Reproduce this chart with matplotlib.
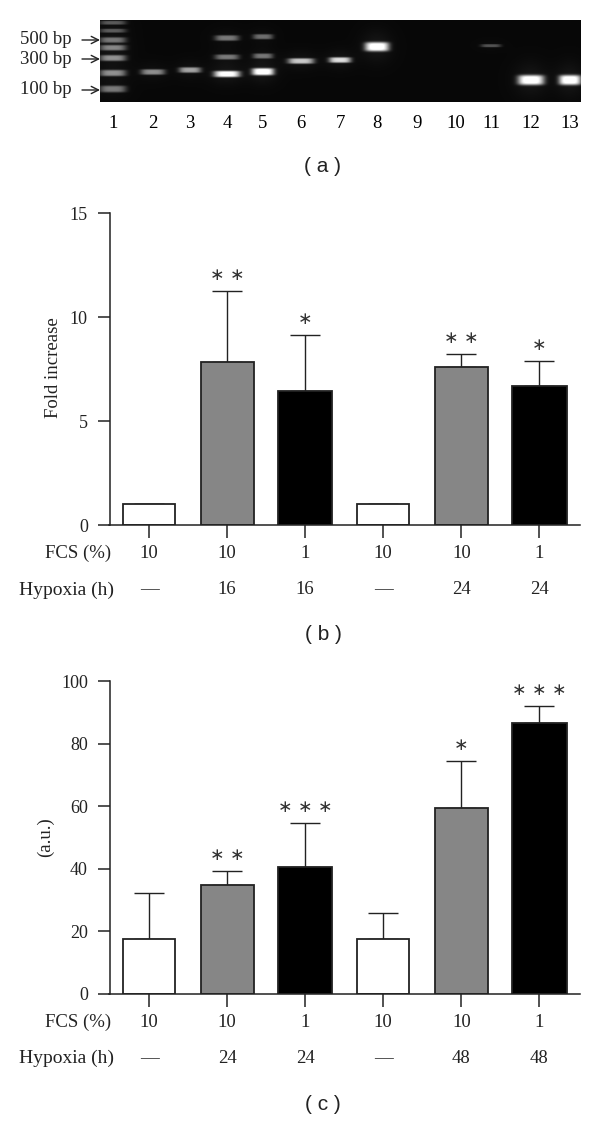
#!/usr/bin/env python3
import numpy as np
import matplotlib
matplotlib.use('Agg')
import matplotlib.pyplot as plt
from matplotlib.transforms import blended_transform_factory

# gel: lane centres and bands (pixels of the image)
lane_names = ['1', '2', '3', '4', '5', '6', '7', '8', '9', '10', '11', '12', '13']
lane_x = [113, 153, 190, 227, 263, 301, 340, 377, 417, 456, 491, 531, 570]
band_lane = [1, 1, 1, 1, 1, 1, 1, 2, 3, 4, 4, 4, 5, 5, 5, 6, 7, 8, 11, 12, 13]
band_y = [22.7, 30.7, 40, 47.7, 58, 73, 89, 72, 70, 74, 57, 38, 71.7, 56, 36.7, 61, 60, 46.7, 45.7, 80, 80]
band_level = [0.3, 0.3, 0.4, 0.45, 0.5, 0.5, 0.42, 0.5, 0.58, 0.95, 0.42, 0.42, 1.0, 0.4, 0.38, 0.72, 0.8, 1.0, 0.28, 1.0, 1.0]
band_width = [13, 13, 13, 13, 13, 13, 13, 12, 11, 13, 12, 12, 11, 10, 10, 13, 11, 12, 10, 13, 11]
band_height = [2, 2, 2.8, 2.8, 3, 3.2, 3.4, 2.8, 2.8, 3.2, 2.6, 2.8, 3.6, 2.6, 2.6, 2.8, 2.8, 4.6, 1.6, 5, 5]
size_names = ['500 bp', '300 bp', '100 bp']
size_y = [40, 59, 90]

# panel b
b_values = [1.02, 7.85, 6.43, 1.02, 7.61, 6.70]
b_errors = [0, 3.42, 2.69, 0, 0.59, 1.20]
b_stars = [0, 2, 1, 0, 2, 1]
b_fcs = ['10', '10', '1', '10', '10', '1']
b_hypoxia = ['—', '16', '16', '—', '24', '24']

# panel c
c_values = [17.6, 34.8, 40.7, 17.6, 59.6, 86.5]
c_errors = [14.6, 4.6, 13.9, 8.2, 14.9, 5.7]
c_stars = [0, 2, 3, 0, 1, 3]
c_fcs = ['10', '10', '1', '10', '10', '1']
c_hypoxia = ['—', '24', '24', '—', '48', '48']

W, H = 600, 1121
INK = '#222222'
plt.rcParams['font.family'] = ['Liberation Serif', 'DejaVu Sans']
plt.rcParams['font.size'] = 13.5
plt.rcParams['text.color'] = INK

fig = plt.figure(figsize=(W / 100, H / 100), dpi=100, facecolor='white')


def px_axes(left, top, right, bottom):
    return fig.add_axes([left / W, 1 - bottom / H, (right - left) / W, (bottom - top) / H])


def draw_gel():
    ax = px_axes(100, 20, 581, 102)
    xs = np.arange(100, 581) + 0.5
    ys = np.arange(20, 102) + 0.5
    gx, gy = np.meshgrid(xs, ys)
    img = np.full(gx.shape, 0.03)
    for lane, y, level, w, h in zip(band_lane, band_y, band_level, band_width, band_height):
        x = lane_x[lane - 1]
        img += level * np.exp(-((gx - x) / w) ** 4 - ((gy - y) / h) ** 4)
        # faint glow round each band
        img += 0.06 * level * np.exp(-((gx - x) / (w * 1.3)) ** 2 - ((gy - y) / (h * 3.5)) ** 2)
    ax.imshow(np.clip(img, 0, 1), cmap='gray', vmin=0, vmax=1, aspect='auto',
              extent=(100, 581, 102, 20), interpolation='bilinear')
    ax.set_xticks(lane_x)
    ax.set_xticklabels(lane_names, fontsize=13.5)
    ax.tick_params(axis='x', length=0, pad=9)
    ax.set_yticks([])
    for s in ax.spines.values():
        s.set_visible(False)
    for name, y in zip(size_names, size_y):
        ax.annotate(name, xy=(100, y), xycoords='data', xytext=(72, y),
                    textcoords='data', ha='right', va='center', fontsize=13.5,
                    annotation_clip=False)
        ax.annotate('', xy=(100, y), xycoords='data', xytext=(82, y), textcoords='data',
                    annotation_clip=False,
                    arrowprops=dict(arrowstyle='->', color=INK, lw=1, shrinkA=0, shrinkB=0,
                                    mutation_scale=13))


def draw_panel(top, bottom, values, errors, stars, fcs, hypoxia, ymax, yticks, ylabel, ylabel_x):
    ax = px_axes(109.5, top, 580, bottom)
    pos = np.arange(len(values))
    widths = [0.66, 0.68, 0.70] * 2
    fills = ['white', '#868686', 'black'] * 2
    ax.errorbar(pos, values, yerr=[np.zeros(len(errors)), errors], fmt='none', ecolor=INK,
                elinewidth=1, capsize=10.8, capthick=1, zorder=1)
    ax.bar(pos, values, width=widths, color=fills, edgecolor=INK, linewidth=1.3, zorder=2)
    ax.set_xlim(-0.506, 5.52)
    ax.set_ylim(0, ymax)
    ax.set_yticks(yticks)
    ax.set_xticks(pos)
    ax.set_xticklabels([])
    ax.tick_params(axis='y', length=8.6, width=1.1, pad=7, labelsize=13, colors=INK)
    ax.tick_params(axis='x', length=9.4, width=1.1, colors=INK)
    ax.spines['top'].set_visible(False)
    ax.spines['right'].set_visible(False)
    for s in ('left', 'bottom'):
        ax.spines[s].set_linewidth(1.1)
        ax.spines[s].set_color(INK)

    # significance stars just above the caps
    for p, v, e, n in zip(pos, values, errors, stars):
        if n:
            ax.annotate(' '.join(['∗'] * n), xy=(p, v + e), xytext=(0, 5), textcoords='offset points',
                        ha='center', va='bottom', fontsize=12.5, family='DejaVu Sans', color='#333333')

    # the two rows of conditions under the axis
    trans = blended_transform_factory(ax.transData, fig.transFigure)
    row1 = 1 - (bottom + 28.5) / H
    row2 = 1 - (bottom + 65) / H
    for p, a, b in zip(pos, fcs, hypoxia):
        ax.text(p, row1, a, transform=trans, ha='center', va='center')
        ax.text(p, row2, b, transform=trans, ha='center', va='center')
    fig.text(111 / W, row1, 'FCS (%)', ha='right', va='center')
    fig.text(114 / W, row2, 'Hypoxia (h)', ha='right', va='center', fontsize=14)
    fig.text(ylabel_x / W, 1 - (top + bottom - ylabel[1]) / 2 / H, ylabel[0], rotation=90,
             ha='center', va='center')


def panel_tag(text, y):
    fig.text(323 / W, 1 - y / H, text, ha='center', va='center', fontsize=15,
             family='Liberation Sans')


draw_gel()
draw_panel(213, 525, b_values, b_errors, b_stars, b_fcs, b_hypoxia, 15, [0, 5, 10, 15],
           ('Fold increase', 2), 53)
draw_panel(681.3, 993.7, c_values, c_errors, c_stars, c_fcs, c_hypoxia, 100, [0, 20, 40, 60, 80, 100],
           ('(a.u.)', 1), 45)
panel_tag('( a )', 166)
panel_tag('( b )', 635)
panel_tag('( c )', 1105)

fig.savefig('out.png', dpi=100, facecolor='white')
